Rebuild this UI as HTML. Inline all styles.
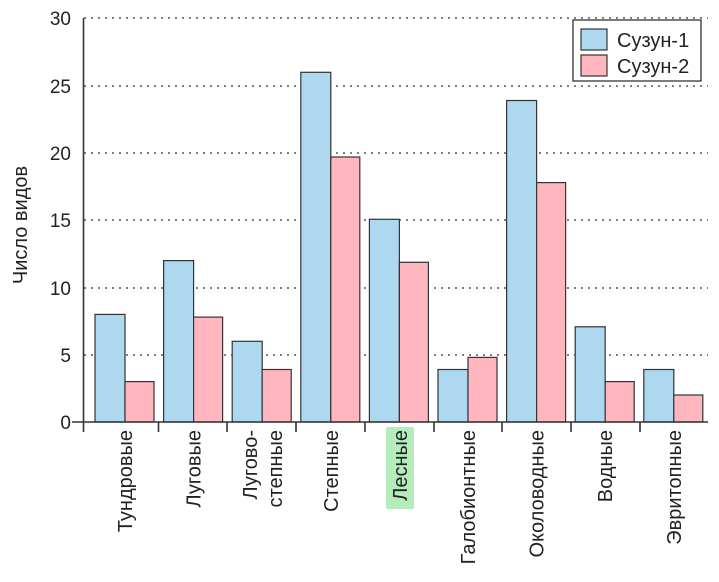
<!DOCTYPE html>
<html><head><meta charset="utf-8"><style>body{margin:0;background:#fff}svg{display:block}text{font-family:"Liberation Sans",Arial,sans-serif;fill:#222}</style></head><body>
<svg width="719" height="582" xmlns="http://www.w3.org/2000/svg">
<g stroke="#333" stroke-width="1.3" stroke-dasharray="2,5">
<line x1="84" y1="18" x2="708" y2="18"/><line x1="84" y1="86" x2="708" y2="86"/><line x1="84" y1="153" x2="708" y2="153"/><line x1="84" y1="220" x2="708" y2="220"/><line x1="84" y1="288" x2="708" y2="288"/><line x1="84" y1="355" x2="708" y2="355"/>
</g>
<g font-size="19" text-anchor="end">
<text x="71" y="25">30</text><text x="71" y="93">25</text><text x="71" y="160">20</text><text x="71" y="227">15</text><text x="71" y="295">10</text><text x="71" y="362">5</text><text x="71" y="429">0</text>
</g>
<text transform="translate(27,225) rotate(-90)" font-size="20" text-anchor="middle">Число видов</text>
<g stroke="#333" stroke-width="1.2">
<rect x="95" y="314.4" width="30" height="107.6" fill="#aed8ef"/><rect x="125" y="381.6" width="29" height="40.4" fill="#ffb6bf"/>
<rect x="163.6" y="260.6" width="30" height="161.4" fill="#aed8ef"/><rect x="193.6" y="317.1" width="29" height="104.9" fill="#ffb6bf"/>
<rect x="232.2" y="341.3" width="30" height="80.7" fill="#aed8ef"/><rect x="262.2" y="369.5" width="29" height="52.5" fill="#ffb6bf"/>
<rect x="300.8" y="72.3" width="30" height="349.7" fill="#aed8ef"/><rect x="330.8" y="157" width="29" height="265" fill="#ffb6bf"/>
<rect x="369.4" y="219.3" width="30" height="202.7" fill="#aed8ef"/><rect x="399.4" y="262.3" width="29" height="159.7" fill="#ffb6bf"/>
<rect x="438" y="369.5" width="30" height="52.5" fill="#aed8ef"/><rect x="468" y="357.4" width="29" height="64.6" fill="#ffb6bf"/>
<rect x="506.6" y="100.5" width="30" height="321.5" fill="#aed8ef"/><rect x="536.6" y="182.6" width="29" height="239.4" fill="#ffb6bf"/>
<rect x="575.2" y="326.8" width="30" height="95.2" fill="#aed8ef"/><rect x="605.2" y="381.6" width="29" height="40.4" fill="#ffb6bf"/>
<rect x="643.8" y="369.5" width="30" height="52.5" fill="#aed8ef"/><rect x="673.8" y="395" width="29" height="27" fill="#ffb6bf"/>
</g>
<g stroke="#333" stroke-width="1.6">
<line x1="83.5" y1="18" x2="83.5" y2="432"/>
<line x1="72" y1="422" x2="708" y2="422"/>
<line x1="158.5" y1="422" x2="158.5" y2="432"/><line x1="227" y1="422" x2="227" y2="432"/><line x1="296" y1="422" x2="296" y2="432"/><line x1="365" y1="422" x2="365" y2="432"/><line x1="434" y1="422" x2="434" y2="432"/><line x1="502" y1="422" x2="502" y2="432"/><line x1="571" y1="422" x2="571" y2="432"/><line x1="640" y1="422" x2="640" y2="432"/>
</g>
<rect x="386" y="427" width="28" height="82" fill="#b4ecbc"/>
<g font-size="20" text-anchor="end">
<text transform="translate(132,430) rotate(-90)">Тундровые</text>
<text transform="translate(200.6,430) rotate(-90)">Луговые</text>
<text transform="translate(257,430) rotate(-90)">Лугово-</text>
<text transform="translate(282,430) rotate(-90)">степные</text>
<text transform="translate(338,430) rotate(-90)">Степные</text>
<text transform="translate(407,430) rotate(-90)">Лесные</text>
<text transform="translate(475,430) rotate(-90)">Галобионтные</text>
<text transform="translate(543.6,430) rotate(-90)">Околоводные</text>
<text transform="translate(612.2,430) rotate(-90)">Водные</text>
<text transform="translate(680.8,430) rotate(-90)">Эвритопные</text>
</g>
<rect x="573" y="20" width="128" height="61" fill="#fff" stroke="#333" stroke-width="1.3"/>
<rect x="581" y="29" width="26" height="21" fill="#aed8ef" stroke="#333" stroke-width="1.2"/>
<rect x="581" y="55" width="26" height="21" fill="#ffb6bf" stroke="#333" stroke-width="1.2"/>
<text x="617" y="47" font-size="20">Сузун-1</text>
<text x="617" y="73" font-size="20">Сузун-2</text>
</svg>
</body></html>
